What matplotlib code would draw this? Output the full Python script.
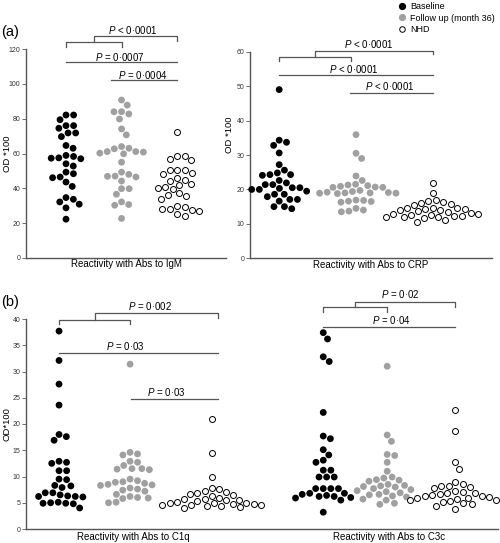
import numpy as np
import matplotlib
matplotlib.use("Agg")
import matplotlib.pyplot as plt
from matplotlib.lines import Line2D

plt.rcParams['font.family'] = ['Liberation Sans', 'DejaVu Sans']
plt.rcParams['mathtext.fontset'] = 'custom'
plt.rcParams['mathtext.it'] = 'Liberation Sans:italic'
plt.rcParams['mathtext.rm'] = 'Liberation Sans'

# --- data (OD*100) ---
igm_base = [82.1, 82.1, 79.4, 76.0, 76.0, 74.5, 71.8, 71.8, 69.7, 64.6, 63.0, 58.9, 58.3, 57.5, 57.3,
            57.0, 54.1, 52.8, 49.3, 48.4, 46.5, 46.1, 43.6, 41.1, 34.7, 33.7, 32.2, 30.9, 28.8, 22.3]
igm_follow = [90.7, 87.8, 84.0, 84.0, 82.7, 79.8, 74.1, 70.7, 64.0, 63.0, 62.7, 61.1, 61.1, 60.8, 60.2,
              59.8, 55.0, 49.3, 48.0, 47.0, 46.9, 46.5, 44.2, 39.8, 39.8, 36.6, 32.2, 30.7, 30.3, 22.7]
igm_nhd = [72.6, 58.5, 58.3, 57.0, 56.0, 50.7, 50.7, 50.3, 49.0, 48.4, 45.9, 45.0, 44.0, 42.7, 41.7,
           40.8, 40.2, 39.4, 37.3, 36.0, 35.4, 34.1, 29.7, 29.0, 28.4, 28.0, 27.4, 27.0, 25.0, 24.0]

crp_base = [49.0, 34.3, 33.7, 32.8, 30.6, 27.2, 25.6, 24.8, 24.3, 24.3, 24.1, 22.6, 21.9, 21.4, 21.4,
            20.5, 20.5, 20.3, 20.0, 20.0, 19.5, 18.6, 18.6, 17.9, 17.1, 17.1, 16.6, 15.0, 15.0, 14.4]
crp_follow = [35.9, 30.5, 29.0, 23.9, 22.6, 21.5, 21.3, 21.1, 20.9, 20.6, 20.6, 20.7, 19.7, 19.4, 19.2,
              19.0, 18.9, 18.9, 18.8, 19.0, 19.1, 16.9, 16.6, 16.8, 16.3, 16.5, 14.5, 14.0, 13.5, 13.7]
crp_nhd = [21.8, 18.9, 16.9, 16.7, 16.3, 16.2, 15.7, 15.5, 14.6, 14.5, 14.5, 14.4, 14.3, 14.0, 14.0,
           13.6, 13.5, 13.1, 13.0, 12.8, 12.6, 12.5, 12.3, 12.2, 12.1, 12.0, 11.9, 11.6, 11.1, 10.4]

c1q_base = [37.7, 32.1, 27.6, 23.6, 18.0, 17.6, 16.9, 12.9, 12.7, 12.5, 11.1, 11.1, 9.5, 9.4, 8.3,
            8.2, 7.9, 6.9, 6.9, 6.5, 6.3, 6.2, 6.2, 6.1, 5.1, 5.0, 4.9, 4.9, 4.8, 4.0]
c1q_follow = [31.4, 14.6, 14.3, 14.1, 12.9, 12.7, 12.1, 11.5, 11.5, 11.4, 11.3, 9.5, 9.2, 9.0, 8.9,
              8.7, 8.5, 8.4, 8.3, 7.8, 7.6, 7.4, 7.2, 6.6, 6.2, 6.0, 5.9, 5.8, 5.1, 5.0]
c1q_nhd = [21.0, 14.5, 10.0, 7.8, 7.6, 7.3, 7.0, 6.8, 6.7, 6.5, 6.3, 6.0, 5.8, 5.7, 5.6,
           5.5, 5.3, 5.2, 5.0, 5.0, 4.9, 4.8, 4.7, 4.6, 4.6, 4.5, 4.4, 4.3, 4.1, 4.0]

c3c_base = [37.4, 36.2, 32.8, 31.9, 22.2, 17.7, 17.2, 15.1, 14.1, 13.1, 12.7, 11.2, 11.2, 9.9, 9.9,
            9.9, 7.7, 7.7, 7.7, 7.7, 6.8, 6.8, 6.6, 6.4, 6.2, 6.2, 6.0, 5.9, 5.5, 3.2]
c3c_follow = [31.0, 17.9, 16.7, 14.2, 14.0, 12.7, 11.0, 9.9, 9.7, 9.4, 9.3, 9.1, 8.5, 8.3, 8.2,
              8.1, 8.0, 7.7, 7.5, 7.3, 7.1, 6.9, 6.6, 6.5, 6.3, 6.1, 5.7, 5.5, 4.9, 4.7]
c3c_nhd = [22.7, 18.6, 12.7, 11.4, 9.0, 8.5, 8.2, 8.1, 8.0, 7.8, 7.2, 7.0, 6.9, 6.8, 6.6,
           6.4, 6.3, 6.2, 6.1, 6.0, 5.9, 5.8, 5.6, 5.5, 5.3, 5.1, 4.9, 4.7, 4.4, 3.9]

GRAY = '#a0a0a0'
LINE = '#555555'
DIAM = 4.9     # marker diameter, points
GAP = 7.6      # swarm spacing, pixels


def swarm_x(ax, xc, vals, gap=GAP):
    # simple beeswarm in pixel space
    vals = np.asarray(vals, float)
    pts = ax.transData.transform(np.column_stack([np.full(len(vals), xc), vals]))
    x0, ys = pts[0, 0], pts[:, 1]
    xs = np.zeros(len(vals))
    placed = []
    for i in np.argsort(-ys):
        y = ys[i]
        cands = [0.0]
        for px, py in placed:
            dy = y - py
            if abs(dy) < gap:
                dx = np.sqrt(gap ** 2 - dy ** 2)
                cands += [px + dx, px - dx]
        cands.sort(key=abs)
        for c in cands:
            if all((c - px) ** 2 + (y - py) ** 2 >= gap ** 2 - 1e-6 for px, py in placed):
                break
        placed.append((c, y))
        xs[i] = c
    back = ax.transData.inverted().transform(np.column_stack([x0 + xs, ys]))
    return back[:, 0]


def draw_group(ax, xc, vals, kind):
    xs = swarm_x(ax, xc, vals)
    if kind == 'base':
        ax.scatter(xs, vals, s=DIAM ** 2, c='black', edgecolors='none', clip_on=False, zorder=3)
    elif kind == 'follow':
        ax.scatter(xs, vals, s=DIAM ** 2, c=GRAY, edgecolors='none', clip_on=False, zorder=3)
    else:
        ax.scatter(xs, vals, s=(DIAM - 0.6) ** 2, facecolors='white', edgecolors='black',
                   linewidths=0.7, clip_on=False, zorder=3)


def style(ax, ymax, step):
    ax.set_ylim(0, ymax)
    ax.set_yticks(np.arange(0, ymax + 1, step))
    for s in ['top', 'right']:
        ax.spines[s].set_visible(False)
    for s in ['left', 'bottom']:
        ax.spines[s].set_color(LINE)
        ax.spines[s].set_linewidth(1.0)
    ax.set_xticks([])
    ax.tick_params(axis='y', length=3, width=0.6, color=LINE, labelsize=5,
                   labelcolor='#333333', pad=1)


def pline(ax, x1, x2, y, txt, tx, ty):
    ax.plot([x1, x2], [y, y], color=LINE, lw=0.9, clip_on=False)
    ax.text(tx, ty, txt, fontsize=7, ha='center', va='center', clip_on=False)


def pbracket(ax, x1, x2, x3, y_low, leg1, y_up, leg2, txt, tx, ty):
    ax.plot([x1, x1, x2, x2], [leg1, y_low, y_low, leg1], color=LINE, lw=0.9, clip_on=False)
    xm = (x1 + x2) / 2
    ax.plot([xm, xm, x3, x3], [y_low, y_up, y_up, leg2], color=LINE, lw=0.9, clip_on=False)
    ax.text(tx, ty, txt, fontsize=7, ha='center', va='center', clip_on=False)


fig = plt.figure(figsize=(5.0, 5.43), dpi=100)
W, H = 500, 543


def add_ax(x0, x1, ytop, ybot):
    return fig.add_axes([x0 / W, 1 - ybot / H, (x1 - x0) / W, (ybot - ytop) / H])


# ---------- (a) IgM ----------
ax1 = add_ax(26, 226, 49, 258)
style(ax1, 120, 20)
ax1.set_xlim(0.28, 3.88)
for xc, vals, kind in [(1, igm_base, 'base'), (2, igm_follow, 'follow'), (3, igm_nhd, 'nhd')]:
    draw_group(ax1, xc, vals, kind)
ax1.set_ylabel('OD *100', fontsize=6.8)
ax1.yaxis.set_label_coords(-14 / 200, 0.5)
ax1.set_xlabel('Reactivity with Abs to IgM', fontsize=7, labelpad=1)
pbracket(ax1, 1, 2, 3, 124.2, 121.3, 127.4, 124.6, r'$P$ < 0·0001', 2.21, 130.8)
pline(ax1, 1, 3, 112.5, r'$P$ = 0·0007', 1.97, 115.6)
pline(ax1, 1.81, 3, 102.2, r'$P$ = 0·0004', 2.39, 105.2)

# ---------- (a) CRP ----------
ax2 = add_ax(250, 492, 51.7, 258.3)
style(ax2, 60, 10)
ax2.set_xlim(0.62, 3.77)
for xc, vals, kind in [(1, crp_base, 'base'), (2, crp_follow, 'follow'), (3, crp_nhd, 'nhd')]:
    draw_group(ax2, xc, vals, kind)
ax2.set_ylabel('OD *100', fontsize=6.8)
ax2.yaxis.set_label_coords(-16 / 242, 0.6)
ax2.set_xlabel('Reactivity with Abs to CRP', fontsize=7, labelpad=1)
pbracket(ax2, 1, 1.94, 3, 58.6, 57.4, 60.3, 59.2, r'$P$ < 0·0001', 2.17, 62.3)
pline(ax2, 1, 3, 53.2, r'$P$ < 0·0001', 1.97, 55.0)
pline(ax2, 1.92, 3, 48.1, r'$P$ < 0·0001', 2.44, 49.9)

# ---------- (b) C1q / C3c ----------
ax3 = add_ax(26, 498, 319, 529)
style(ax3, 40, 5)
ax3.set_xlim(0.535, 7.18)
groups_b = [(1, c1q_base, 'base'), (2, c1q_follow, 'follow'), (3.15, c1q_nhd, 'nhd'),
            (4.72, c3c_base, 'base'), (5.62, c3c_follow, 'follow'), (6.58, c3c_nhd, 'nhd')]
for xc, vals, kind in groups_b:
    draw_group(ax3, xc, vals, kind)
ax3.set_ylabel('OD*100', fontsize=6.8)
ax3.yaxis.set_label_coords(-14 / 472, 0.5)
for xc, lab in [(2.05, 'Reactivity with Abs to C1q'), (5.65, 'Reactivity with Abs to C3c')]:
    ax3.text(xc, -0.012, lab, fontsize=7, ha='center', va='top',
             transform=ax3.get_xaxis_transform())
pbracket(ax3, 1, 2, 3.24, 39.9, 39.0, 41.1, 40.2, r'$P$ = 0·002', 2.28, 42.4)
pline(ax3, 1, 3.24, 33.5, r'$P$ = 0·03', 1.94, 34.8)
pline(ax3, 2.01, 3.24, 24.8, r'$P$ = 0·03', 2.51, 26.0)
pbracket(ax3, 4.72, 5.62, 6.58, 42.3, 41.4, 43.3, 42.3, r'$P$ = 0·02', 5.81, 44.7)
pline(ax3, 4.72, 6.58, 38.5, r'$P$ = 0·04', 5.68, 39.8)

# panel letters
fig.text(0.002, 1 - 32 / H, '(a)', fontsize=10.5, va='center', ha='left')
fig.text(0.002, 1 - 302 / H, '(b)', fontsize=10.5, va='center', ha='left')

# legend
handles = [
    Line2D([], [], ls='none', marker='o', ms=4.2, mfc='black', mec='black'),
    Line2D([], [], ls='none', marker='o', ms=4.2, mfc=GRAY, mec=GRAY),
    Line2D([], [], ls='none', marker='o', ms=4.0, mfc='white', mec='black', mew=0.7),
]
fig.legend(handles, ['Baseline', 'Follow up (month 36)', 'NHD'], loc='upper left',
           bbox_to_anchor=(397 / W, 0.999), frameon=False, fontsize=6.5,
           handlelength=0.8, handletextpad=0.5, labelspacing=0.3, borderpad=0.15,
           borderaxespad=0)

fig.savefig('out.png', dpi=100, facecolor='white')
